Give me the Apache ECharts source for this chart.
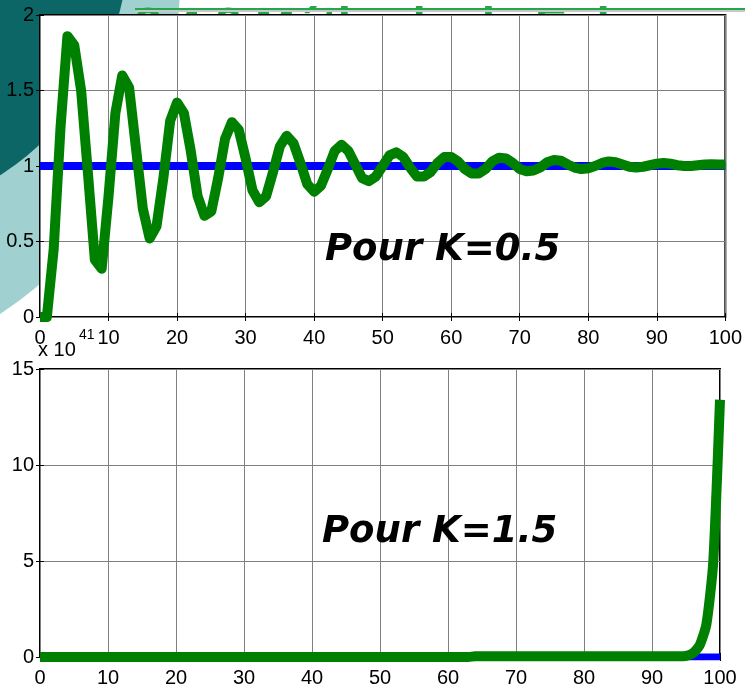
<!DOCTYPE html>
<html>
<head>
<meta charset="utf-8">
<script src="https://cdn.jsdelivr.net/npm/echarts@6/dist/echarts.min.js"></script>
<style>
    html, body { margin: 0; padding: 0; background: #fff; }
    #chart { width: 745px; height: 688px; }
</style>
</head>
<body>
<div id="chart"></div>
<script>
// step index k = 0..100 (one value per sample)
const stepK05 = [
    0, 0, 0.45, 1.26, 1.86, 1.8, 1.5, 0.95, 0.38, 0.32,
    0.8, 1.35, 1.6, 1.52, 1.12, 0.72, 0.52, 0.6, 0.92, 1.3,
    1.42, 1.35, 1.1, 0.8, 0.67, 0.7, 0.92, 1.18, 1.29, 1.24,
    1.05, 0.84, 0.76, 0.8, 0.96, 1.13, 1.2, 1.15, 1.02, 0.88,
    0.83, 0.87, 0.98, 1.1, 1.14, 1.1, 1.01, 0.92, 0.9, 0.93,
    1.0, 1.07, 1.09, 1.06, 0.99, 0.93, 0.93, 0.96, 1.02, 1.06,
    1.06, 1.03, 0.98, 0.95, 0.95, 0.98, 1.03, 1.055, 1.05, 1.02,
    0.98, 0.965, 0.97, 0.99, 1.025, 1.04, 1.035, 1.01, 0.99, 0.98,
    0.985, 1.0, 1.02, 1.03, 1.025, 1.01, 0.995, 0.99, 0.995, 1.005,
    1.015, 1.02, 1.015, 1.005, 1.0, 1.0, 1.005, 1.01, 1.012, 1.01,
    1.01
];
// K = 1.5, values in units of 1e41
const stepK15 = [
    0, 0, 0, 0, 0, 0, 0, 0, 0, 0,
    0, 0, 0, 0, 0, 0, 0, 0, 0, 0,
    0, 0, 0, 0, 0, 0, 0, 0, 0, 0,
    0, 0, 0, 0, 0, 0, 0, 0, 0, 0,
    0, 0, 0, 0, 0, 0, 0, 0, 0, 0,
    0, 0, 0, 0, 0, 0, 0, 0, 0, 0,
    0, 0, 0, 0, 0.04, 0.04, 0.04, 0.04, 0.04, 0.04,
    0.04, 0.04, 0.04, 0.04, 0.04, 0.04, 0.04, 0.04, 0.04, 0.04,
    0.04, 0.04, 0.04, 0.04, 0.04, 0.04, 0.04, 0.04, 0.04, 0.04,
    0.04, 0.04, 0.04, 0.04, 0.04, 0.06, 0.2, 0.6, 1.7, 4.9,
    13.4
];
// consigne (step input)
const consigneTop = [[0, 1], [100, 1]];
const consigneBottom = [[0, 0], [100, 0]];

const FONT = '"Liberation Sans", Arial, sans-serif';
const GREEN = '#008000';
const BLUE = '#0000ff';

const toPoints = (arr) => arr.map((v, i) => [i, v]);

const xAxisBase = (gridIndex, position, labels) => ({
    gridIndex: gridIndex,
    type: 'value',
    position: position,
    min: 0,
    max: 100,
    interval: 10,
    axisLine: { show: false },
    axisTick: { inside: true, length: 4, lineStyle: { color: '#000', width: 1 } },
    axisLabel: { show: labels, color: '#000', fontSize: 20, fontFamily: FONT, margin: 11 },
    splitLine: { show: labels, lineStyle: { color: '#808080', width: 1 } }
});

const yAxisBase = (gridIndex, position, labels, max, interval) => ({
    gridIndex: gridIndex,
    type: 'value',
    position: position,
    min: 0,
    max: max,
    interval: interval,
    axisLine: { show: false },
    axisTick: { inside: true, length: 4, lineStyle: { color: '#000', width: 1 } },
    axisLabel: { show: labels, color: '#000', fontSize: 20, fontFamily: FONT, margin: 6 },
    splitLine: { show: labels, lineStyle: { color: '#808080', width: 1 } }
});

const chart = echarts.init(document.getElementById('chart'));

chart.setOption({
    animation: false,
    backgroundColor: '#fff',
    grid: [
        { left: 40, top: 15, right: 18, height: 302, show: true, backgroundColor: '#fff', borderColor: '#000', borderWidth: 2 },
        { left: 40, top: 369, right: 25, height: 288, show: true, backgroundColor: '#fff', borderColor: '#000', borderWidth: 2 }
    ],
    xAxis: [
        xAxisBase(0, 'bottom', true),
        xAxisBase(0, 'top', false),
        xAxisBase(1, 'bottom', true),
        xAxisBase(1, 'top', false)
    ],
    yAxis: [
        yAxisBase(0, 'left', true, 2, 0.5),
        yAxisBase(0, 'right', false, 2, 0.5),
        yAxisBase(1, 'left', true, 15, 5),
        yAxisBase(1, 'right', false, 15, 5)
    ],
    series: [
        {
            type: 'line', xAxisIndex: 0, yAxisIndex: 0, data: consigneTop,
            symbol: 'none', lineStyle: { color: BLUE, width: 8 }, z: 2
        },
        {
            type: 'line', xAxisIndex: 0, yAxisIndex: 0, data: toPoints(stepK05),
            symbol: 'none', lineStyle: { color: GREEN, width: 10, join: 'round', cap: 'butt' }, z: 3
        },
        {
            type: 'line', xAxisIndex: 2, yAxisIndex: 2, data: consigneBottom,
            symbol: 'none', lineStyle: { color: BLUE, width: 7 }, z: 2
        },
        {
            type: 'line', xAxisIndex: 2, yAxisIndex: 2, data: toPoints(stepK15),
            symbol: 'none', smooth: 0.2, lineStyle: { color: GREEN, width: 10, join: 'round', cap: 'butt' }, z: 3
        }
    ],
    graphic: [
        // slide decoration behind the plots
        { type: 'circle', z: -20, shape: { cx: -220, cy: -20, r: 400 }, style: { fill: '#a0d0d0' } },
        { type: 'circle', z: -19, shape: { cx: -150, cy: -60, r: 279 }, style: { fill: '#0b6665' } },
        {
            type: 'text', z: -18, x: 135, y: 4,
            style: { text: '3.4.2 Méthode de Euler', font: 'bold 48px ' + FONT, fill: '#22a84a', verticalAlign: 'alphabetic' }
        },
        { type: 'rect', z: -18, shape: { x: 135, y: 8, width: 610, height: 2 }, style: { fill: '#22a84a' } },
        { type: 'rect', z: -18, shape: { x: 137, y: 10, width: 608, height: 2 }, style: { fill: '#c8c8c8' } },
        // exponent of the lower y axis
        { type: 'text', z: 50, x: 38, y: 350, style: { text: 'x 10', font: '20px ' + FONT, fill: '#000', verticalAlign: 'middle' } },
        { type: 'text', z: 50, x: 79, y: 335, style: { text: '41', font: '14px ' + FONT, fill: '#000', verticalAlign: 'middle' } },
        // annotations
        {
            type: 'text', z: 50, x: 325, y: 250,
            style: { text: 'Pour K=0.5', font: 'italic bold 37px "DejaVu Sans"', fill: '#000', verticalAlign: 'middle' }
        },
        {
            type: 'text', z: 50, x: 322, y: 532,
            style: { text: 'Pour K=1.5', font: 'italic bold 37px "DejaVu Sans"', fill: '#000', verticalAlign: 'middle' }
        }
    ]
});
</script>
</body>
</html>
